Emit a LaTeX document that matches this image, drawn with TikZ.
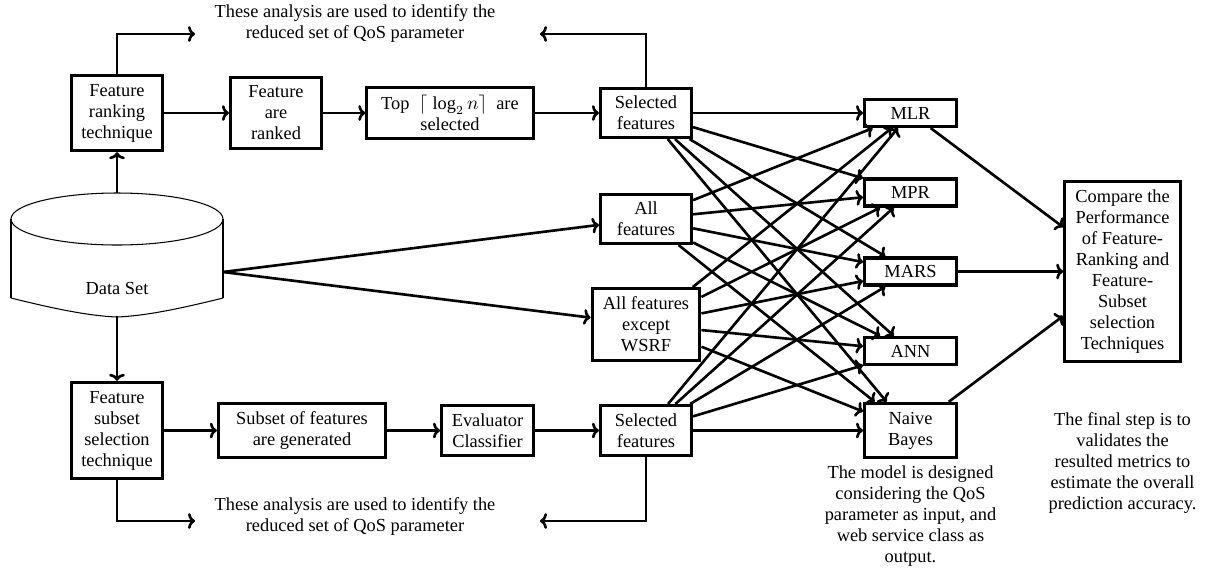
\documentclass[tikz,border=0pt]{standalone}
\usepackage{fontspec}
\setmainfont{Liberation Serif}
\usetikzlibrary{arrows.meta}
\begin{document}
\begin{tikzpicture}[x=0.5714pt,y=-0.5714pt,
  font=\fontsize{10.5}{12}\selectfont,
  box/.style={draw,line width=1.8pt,align=center,inner sep=1pt},
  link/.style={line width=1.5pt,-{To[length=4pt,width=9pt]}},
  thinline/.style={line width=0.6pt},
  note/.style={align=center,inner sep=0pt},
  model/.style={box,minimum width=52.5pt,minimum height=15.5pt}]
\useasboundingbox (0,0) rectangle (1218,571);

% ---- data store ----
\coordinate (dsTop) at (117,193);
\coordinate (dsBot) at (117,316);
\coordinate (dsR) at (223,272);
\draw[thinline] (117,219) ellipse [x radius=106, y radius=26];
\draw[line width=1.5pt] (11,219) -- (11,298) (223,219) -- (223,298);
\draw[thinline] (11,298) .. controls (55,309) and (90,316) .. (117,317)
                 .. controls (144,316) and (179,309) .. (223,298);
\node (dslabel) at (117,288) {Data Set};

% ---- ranking branch ----
\node[box,minimum width=52pt,minimum height=43pt] (rank) at (117,113) {Feature\\ranking\\technique};
\node[box,minimum width=52pt,minimum height=40.5pt] (ranked) at (276,113) {Feature\\are\\ranked};
\node[box,minimum width=95pt,minimum height=29pt] (topn) at (450,113) {Top \ $\lceil\;\log_2 n\rceil$ \ are\\selected};
\node[box,minimum width=52pt,minimum height=28pt] (selT) at (646,113) {Selected\\features};

% ---- full sets ----
\node[box,minimum width=52pt,minimum height=28pt] (allf) at (646,219) {All\\features};
\node[box,minimum width=61.5pt,minimum height=41pt] (wsrf) at (646,324.5) {All features\\except\\WSRF};

% ---- subset branch ----
\node[box,minimum width=52pt,minimum height=55pt] (fss) at (117,430.5) {Feature\\subset\\selection\\technique};
\node[box,minimum width=95.5pt,minimum height=31pt] (subset) at (302,430.5) {Subset of features\\are generated};
\node[box,minimum width=52.5pt,minimum height=28.5pt] (eval) at (487.5,430.5) {Evaluator\\Classifier};
\node[box,minimum width=52pt,minimum height=28.5pt] (selB) at (646,430.5) {Selected\\features};

% ---- models ----
\node[model] (mlr) at (910.5,113) {MLR};
\node[model] (mpr) at (910.5,192.5) {MPR};
\node[model] (mars) at (910.5,271.5) {MARS};
\node[model] (ann) at (910.5,351) {ANN};
\node[model,minimum height=31pt] (nb) at (910.5,430.5) {Naive\\Bayes};

\node[box,minimum width=66pt,minimum height=103pt] (cmp) at (1122.5,271.5)
  {Compare the\\Performance\\of Feature-\\Ranking and\\Feature-\\Subset\\selection\\Techniques};

% ---- notes ----
\node[note] (noteTop) at (355,23) {These analysis are used to identify the\\reduced set of QoS parameter};
\node[note] (noteBot) at (355,516) {These analysis are used to identify the\\reduced set of QoS parameter};
\node[note] (noteModel) at (910.5,516) {The model is designed\\considering the QoS\\parameter as input, and\\web service class as\\output.};
\node[note] (noteFinal) at (1122.5,463.5) {The final step is to\\validates the\\resulted metrics to\\estimate the overall\\prediction accuracy.};

% ---- connectors ----
\draw[link] (dsTop) -- (rank);
\draw[link] (dsBot) -- (fss);
\draw[link] (dsR) -- (allf);
\draw[link] (dsR) -- (wsrf);

\draw[link] (rank) -- (ranked);
\draw[link] (ranked) -- (topn);
\draw[link] (topn) -- (selT);
\draw[link] (fss) -- (subset);
\draw[link] (subset) -- (eval);
\draw[link] (eval) -- (selB);

\coordinate (upL) at (195,34);
\coordinate (upR) at (540,34);
\coordinate (dnL) at (195,521);
\coordinate (dnR) at (540,521);
\draw[link] (rank.north) |- (upL);
\draw[link] (selT.north) |- (upR);
\draw[link] (fss.south) |- (dnL);
\draw[link] (selB.south) |- (dnR);

\foreach \s in {selT,allf,wsrf,selB}
  \foreach \t in {mlr,mpr,mars,ann,nb}
    \draw[link] (\s) -- (\t);

\draw[link] (mlr) -- (cmp);
\draw[link] (mars) -- (cmp);
\draw[link] (nb) -- (cmp);
\end{tikzpicture}
\end{document}
